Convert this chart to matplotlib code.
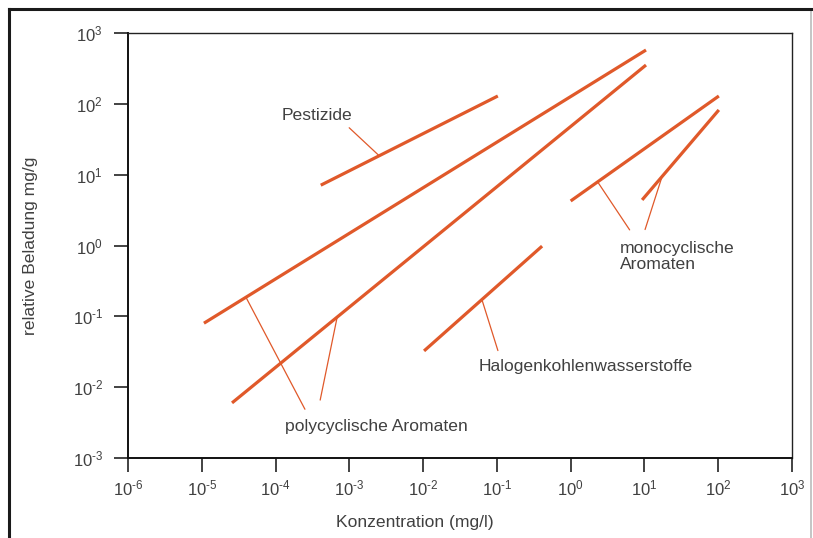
import matplotlib
matplotlib.use("Agg")
import matplotlib.pyplot as plt
from matplotlib.patches import Rectangle

plt.rcParams['font.family'] = ['Liberation Sans', 'DejaVu Sans']
plt.rcParams['mathtext.fontset'] = 'custom'
plt.rcParams['mathtext.rm'] = 'Liberation Sans'
plt.rcParams['mathtext.it'] = 'Liberation Sans'

# isotherm segments: (start conc, start load) -> (end conc, end load)
pest_x = [4.1e-4, 0.103]
pest_y = [7.1, 129]
pak1_x = [1.07e-5, 10.5]
pak1_y = [0.080, 575]
pak2_x = [2.57e-5, 10.5]
pak2_y = [0.0060, 353]
mono1_x = [1.0, 102]
mono1_y = [4.25, 129]
mono2_x = [9.3, 102]
mono2_y = [4.4, 82]
halo_x = [0.0103, 0.41]
halo_y = [0.0325, 0.98]

x_exp = list(range(-6, 4))
y_exp = list(range(-3, 4))

ORANGE = '#e0592a'
GREY = '#404040'


def sci(e):
    # short hyphen instead of the long math minus, like the original
    return '$10^{' + str(e).replace('-', '\u2010') + '}$'


fig = plt.figure(figsize=(8.13, 5.38), dpi=100)
ax = fig.add_axes([128 / 813, 80 / 538, 664 / 813, 425 / 538])

segments = [(pest_x, pest_y), (pak1_x, pak1_y), (pak2_x, pak2_y),
            (mono1_x, mono1_y), (mono2_x, mono2_y), (halo_x, halo_y)]
for xs, ys in segments:
    ax.plot(xs, ys, color=ORANGE, lw=2.3, solid_capstyle='butt')

ax.set_xscale('log')
ax.set_yscale('log')
ax.set_xlim(1e-6, 1e3)
ax.set_ylim(1e-3, 1e3)
ax.set_xticks([10.0 ** e for e in x_exp])
ax.set_yticks([10.0 ** e for e in y_exp])
ax.minorticks_off()
ax.set_xticklabels([sci(e) for e in x_exp])
ax.set_yticklabels([sci(e) for e in y_exp])
ax.tick_params(direction='out', length=10, width=1.2, color='#222222',
               labelsize=12, labelcolor=GREY)
ax.tick_params(axis='x', pad=5)
ax.tick_params(axis='y', pad=8)
for side in ['left', 'bottom']:
    ax.spines[side].set_linewidth(1.4)
    ax.spines[side].set_color('#111111')
for side in ['top', 'right']:
    ax.spines[side].set_linewidth(1.0)
    ax.spines[side].set_color('#222222')


def point_on(xs, ys, t):
    # point at fraction t along the segment in log space
    return (xs[0] ** (1 - t) * xs[1] ** t, ys[0] ** (1 - t) * ys[1] ** t)


leaders = [
    (pest_x, pest_y, 0.33, (-30, 28)),
    (pak1_x, pak1_y, 0.095, (59, -112)),
    (pak2_x, pak2_y, 0.254, (-17, -83)),
    (mono1_x, mono1_y, 0.182, (32, -48)),
    (mono2_x, mono2_y, 0.26, (-17, -53)),
    (halo_x, halo_y, 0.49, (16, -51)),
]
for xs, ys, t, off in leaders:
    ax.annotate('', xy=point_on(xs, ys, t), xycoords='data',
                xytext=off, textcoords='offset pixels',
                arrowprops=dict(arrowstyle='-', color=ORANGE, lw=0.9,
                                shrinkA=0, shrinkB=0))

fs = 12.6
fig.text(282 / 813, 1 - 115 / 538, 'Pestizide', fontsize=fs, color=GREY, va='center')
fig.text(285 / 813, 1 - 427 / 538, 'polycyclische Aromaten', fontsize=fs, color=GREY, va='center')
fig.text(479 / 813, 1 - 366 / 538, 'Halogenkohlenwasserstoffe', fontsize=fs, color=GREY, va='center')
fig.text(620 / 813, 1 - 256.5 / 538, 'monocyclische\nAromaten', fontsize=fs, color=GREY,
         va='center', linespacing=1.15)

fig.text(415 / 813, 1 - 522 / 538, 'Konzentration (mg/l)', fontsize=fs, color=GREY,
         ha='center', va='center')
fig.text(30 / 813, 1 - 246 / 538, 'relative Beladung mg/g', fontsize=fs, color=GREY,
         ha='center', va='center', rotation=90)

# outer frame
fig.add_artist(Rectangle((9 / 813, -0.05), 802 / 813, 1.05 - 9 / 538,
                         transform=fig.transFigure, fill=False,
                         edgecolor='#bbbbbb', lw=1.2))
fig.add_artist(plt.Line2D([9 / 813, 9 / 813], [0, 1 - 9 / 538],
                          transform=fig.transFigure, color='#1a1a1a', lw=2.2))
fig.add_artist(plt.Line2D([9 / 813, 811 / 813], [1 - 9 / 538, 1 - 9 / 538],
                          transform=fig.transFigure, color='#1a1a1a', lw=2.2))

fig.savefig('out.png', dpi=100)
